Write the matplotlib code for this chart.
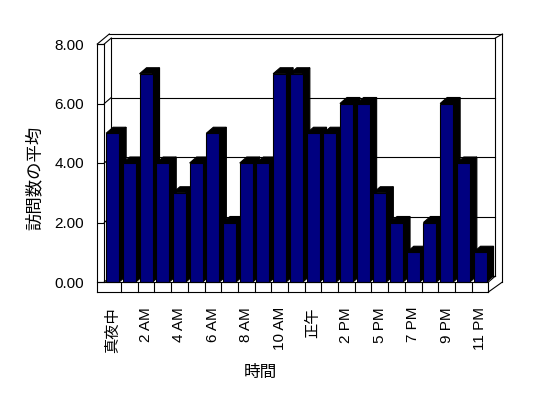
import matplotlib.pyplot as plt
from matplotlib.patches import Polygon

plt.rcParams['font.family'] = ['Liberation Sans', 'Noto Sans CJK JP']

hours = ['真夜中', '1 AM', '2 AM', '3 AM', '4 AM', '5 AM', '6 AM', '7 AM',
         '8 AM', '9 AM', '10 AM', '11 AM', '正午', '1 PM', '2 PM', '4 PM',
         '5 PM', '6 PM', '7 PM', '8 PM', '9 PM', '10 PM', '11 PM']
visits = [5, 4, 7, 4, 3, 4, 5, 2, 4, 4, 7, 7, 5, 5, 6, 6, 3, 2, 1, 2, 6, 4, 1]
y_ticks = [0, 2, 4, 6, 8]
y_tick_labels = ['0.00', '2.00', '4.00', '6.00', '8.00']

W, H = 548, 398
fig = plt.figure(figsize=(W / 100, H / 100), dpi=100)
ax_w, ax_h = 384.1, 238.0
ax = fig.add_axes([104.3 / W, 116 / H, ax_w / W, ax_h / H])
n = len(hours)
ymax = 8
ax.set_xlim(-0.5, n - 0.5)
ax.set_ylim(0, ymax)
for s in ax.spines.values():
    s.set_visible(False)

# pixels per data unit
ux = ax_w / n
uy = ax_h / ymax


def pt(x, y, dx=0, dy=0):
    # data point shifted by dx, dy pixels (dy up)
    return (x + dx / ux, y + dy / uy)


def seg(p, q, z=1):
    ax.plot([p[0], q[0]], [p[1], q[1]], color='black', lw=0.8,
            clip_on=False, zorder=z, solid_capstyle='projecting')


L, R = -0.5, n - 0.5
DX, DY = 7, 6  # depth of the box

# back wall (inner face) and gridlines
for yv in y_ticks:
    seg(pt(L, yv, DX, DY), pt(R, yv, DX, DY))
    seg(pt(L, yv), pt(L, yv, DX, DY))
seg(pt(L, 0, DX, DY), pt(L, ymax, DX, DY))
seg(pt(R, 0, DX, DY), pt(R, ymax, DX, DY))

# back wall (outer face)
seg(pt(L, ymax, 5, 10), pt(R, ymax, 14, 10))
seg(pt(R, ymax, 14, 10), pt(R, 0, 14, 0))
seg(pt(R, ymax, DX, DY), pt(R, ymax, 14, 10))

# left wall
seg(pt(L, ymax, -7, 0), pt(L, 0, -7, -10), z=50)
seg(pt(L, ymax, -7, 0), pt(L, ymax))
seg(pt(L, ymax), pt(L, 0))
seg(pt(L, ymax, -7, 0), pt(L, ymax, 5, 10))

# floor
seg(pt(L, 0, -7, 0), pt(R, 0), z=50)
seg(pt(L, 0, -7, -10), pt(R, 0, 0, -10), z=50)
seg(pt(R, 0), pt(R, 0, 0, -10), z=50)
seg(pt(R, 0, 0, -10), pt(R, 0, 14, 0), z=50)
seg(pt(R, 0), pt(R, 0, DX, DY), z=50)
for i in range(n - 1):
    seg(pt(i + 0.5, 0), pt(i + 0.5, 0, 0, -10), z=50)

# bars
bw = 13 / ux
for i, v in enumerate(visits):
    z = 5 + i
    xl, xr = i - bw / 2, i + bw / 2
    side = [pt(xr, 0), pt(xr, v), pt(xr, v, DX, DY), pt(xr, 0, DX, DY)]
    top = [pt(xl, v), pt(xr, v), pt(xr, v, DX, DY), pt(xl, v, DX, DY)]
    ax.add_patch(Polygon(side, closed=True, facecolor='black',
                         edgecolor='black', lw=0.8, zorder=z, clip_on=False))
    ax.add_patch(Polygon(top, closed=True, facecolor='black',
                         edgecolor='black', lw=0.8, zorder=z, clip_on=False))
    b = ax.bar(i, v, width=bw, color='#000080', edgecolor='black',
               linewidth=0.8, zorder=z)
    b[0].set_clip_on(False)

ax.set_yticks(y_ticks, y_tick_labels)
ax.tick_params(axis='y', length=7 * 0.72, width=0.8, direction='out',
               pad=9.5, labelsize=11)
ax.set_xticks(range(0, n, 2), hours[::2], rotation=90)
ax.tick_params(axis='x', length=0, pad=18, labelsize=11)

fig.text(260 / W, 1 - 372 / H, '時間', ha='center', va='center', fontsize=12)
fig.text(34 / W, 1 - 178 / H, '訪問数の平均', ha='center', va='center',
         rotation=90, fontsize=12.5)

fig.savefig('out.png', dpi=100, facecolor='white')
